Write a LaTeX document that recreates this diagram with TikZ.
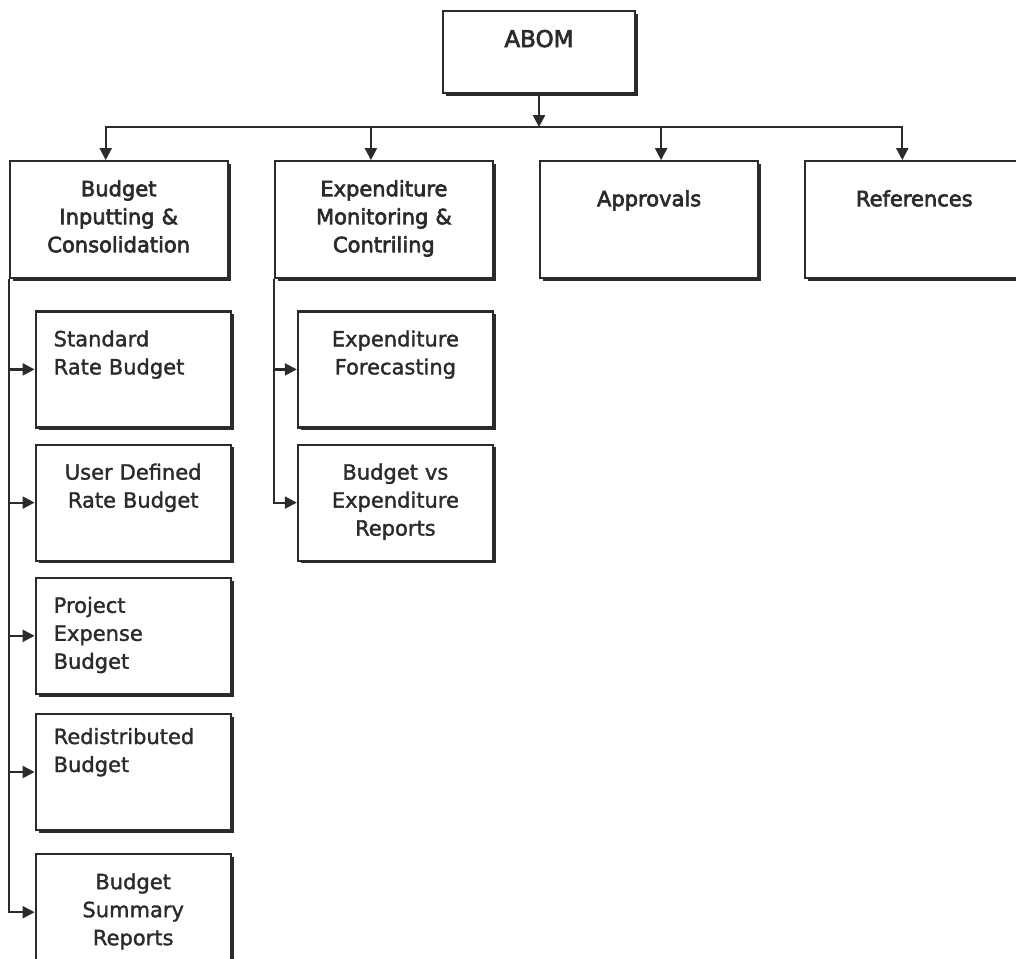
\documentclass[tikz,border=0pt]{standalone}
\usepackage{fontspec}
\setmainfont{DejaVu Sans}
\newfontfamily\headfont{DejaVu Sans}[FakeBold=3]
\newfontfamily\subfont{DejaVu Sans}[FakeBold=1.5]
\usetikzlibrary{positioning,shadows,arrows.meta}
\definecolor{ink}{HTML}{2B2B2B}

\begin{document}
\begin{tikzpicture}[>={Triangle[length=6pt,width=6pt]}, line width=1.1pt, color=ink,
boxnode/.style={rectangle, draw=ink, fill=white, line width=1.1pt, drop shadow={shadow xshift=1.4pt, shadow yshift=-1.4pt, opacity=1, fill=ink}, text=ink, inner ysep=3pt, font=\subfont\fontsize{10.5}{14}\selectfont},
topnode/.style={boxnode, inner xsep=3pt, text width=90pt, align=center, text height=15pt, text depth=20pt, font=\headfont\fontsize{11.5}{14}\selectfont},
headnode/.style={boxnode, inner xsep=3pt, text width=103pt, align=center, text height=14.5pt, text depth=38pt, font=\headfont\fontsize{10.5}{14}\selectfont},
subnode/.style={boxnode, inner xsep=3pt, text width=91.5pt, align=center, text height=14.5pt, text depth=37.5pt},
subnodeleft/.style={subnode, inner xsep=9pt, text width=79.5pt, align=left},
]
\useasboundingbox (0,0) rectangle (508pt,-479pt);

%Nodes
\node[topnode]      (ABOM)        at (269.5pt,-26pt)                       {ABOM};
\node[headnode, text height=19.5pt, text depth=33pt] (Approvals) [below right=33pt and 0pt of ABOM.south] {Approvals};
\node[headnode]     (Expenditure) [left=22.5pt of Approvals]             {Expenditure\\ Monitoring \&\\ Contriling};
\node[headnode]     (Budget)      [left=22.5pt of Expenditure]           {Budget\\ Inputting \&\\ Consolidation};
\node[headnode, text height=19.5pt, text depth=33pt] (References) [right=22.5pt of Approvals] {References};

\node[subnodeleft]  (StdRate)     [below right=15.5pt and 13pt of Budget.south west] {Standard\\ Rate Budget};
\node[subnode]      (UserRate)    [below=7.5pt of StdRate]               {User Defined\\ Rate Budget};
\node[subnodeleft]  (ProjExp)     [below=7.5pt of UserRate]              {Project\\ Expense\\ Budget};
\node[subnodeleft, text height=12pt, text depth=40pt] (Redist) [below=9pt of ProjExp] {Redistributed\\ Budget};
\node[subnode]      (Summary)     [below=11pt of Redist]                 {Budget\\ Summary\\ Reports};

\node[subnode]      (Forecast)    [below right=15.5pt and 11.5pt of Expenditure.south west] {Expenditure\\ Forecasting};
\node[subnode]      (BudVsExp)    [below=7.5pt of Forecast]              {Budget vs\\ Expenditure\\ Reports};

%Lines
\coordinate (bus) at ([yshift=-16.5pt]ABOM.south);
\draw[->] (ABOM.south) -- (bus);
\draw[->] (bus) -| ([xshift=-6.5pt]Budget.north);
\draw[->] (bus) -| ([xshift=-6.5pt]Expenditure.north);
\draw[->] (bus) -| ([xshift=6pt]Approvals.north);
\draw[->] (bus) -| ([xshift=-6pt]References.north);

\draw[->] (Budget.south west) |- (StdRate.west);
\draw[->] (Budget.south west) |- (UserRate.west);
\draw[->] (Budget.south west) |- (ProjExp.west);
\draw[->] (Budget.south west) |- (Redist.west);
\draw[->] (Budget.south west) |- (Summary.west);

\draw[->] (Expenditure.south west) |- (Forecast.west);
\draw[->] (Expenditure.south west) |- (BudVsExp.west);
\end{tikzpicture}
\end{document}
